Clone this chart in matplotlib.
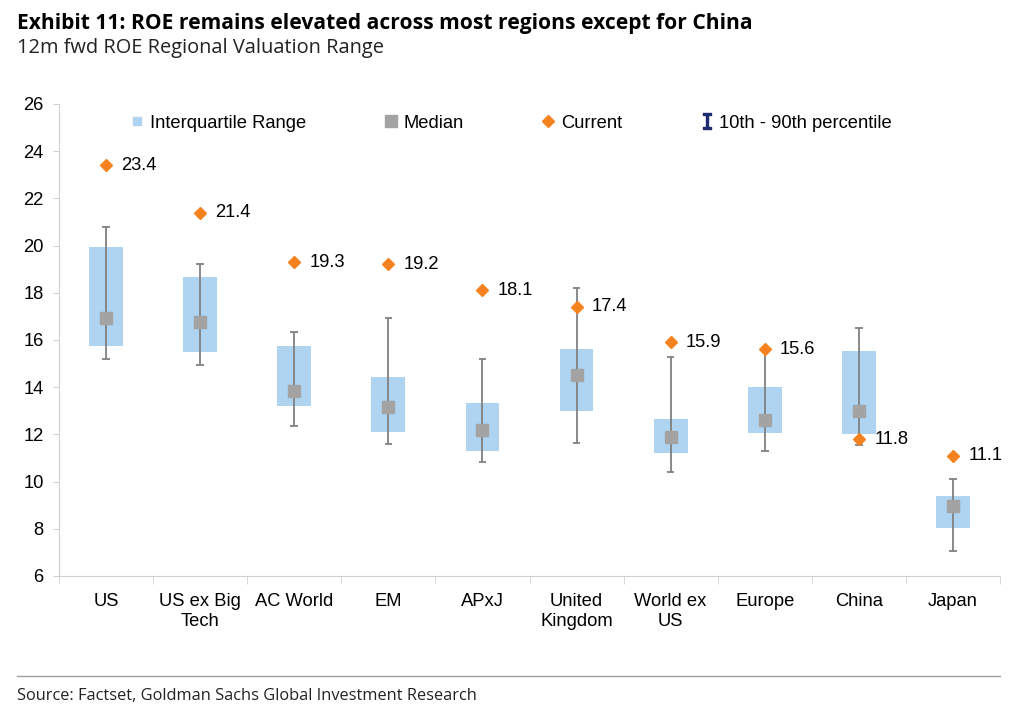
import matplotlib.pyplot as plt
from matplotlib.lines import Line2D
import numpy as np

regions = ['US', 'US ex Big\nTech', 'AC World', 'EM', 'APxJ', 'United\nKingdom',
           'World ex\nUS', 'Europe', 'China', 'Japan']
p10 = [15.2, 14.95, 12.35, 11.6, 10.85, 11.65, 10.4, 11.3, 11.55, 7.05]
q25 = [15.75, 15.5, 13.2, 12.1, 11.3, 13.0, 11.2, 12.05, 12.0, 8.05]
median = [16.95, 16.75, 13.85, 13.15, 12.2, 14.5, 11.9, 12.6, 13.0, 8.95]
q75 = [19.95, 18.65, 15.75, 14.45, 13.35, 15.6, 12.65, 14.0, 15.55, 9.4]
p90 = [20.8, 19.2, 16.35, 16.95, 15.2, 18.2, 15.3, 15.55, 16.5, 10.1]
current = [23.4, 21.4, 19.3, 19.2, 18.1, 17.4, 15.9, 15.6, 11.8, 11.1]

blue = '#aed4f1'
grey = '#a3a3a3'
orange = '#f5821f'
whisk = '#808080'
navy = '#1f2d6e'
fs = 13.2

plt.rcParams['font.family'] = ['Liberation Sans', 'DejaVu Sans']

fig = plt.figure(figsize=(10.14, 7.2), dpi=100)
ax = fig.add_axes([0.0582, 0.2, 0.928, 0.6556])

x = np.arange(len(regions))
q25a = np.array(q25)
q75a = np.array(q75)
ax.bar(x, q75a - q25a, bottom=q25a, width=0.36, color=blue, zorder=1)
ax.vlines(x, p10, p90, color=whisk, lw=1.3, zorder=2)
ax.hlines(p10, x - 0.04, x + 0.04, color=whisk, lw=1.3, zorder=2)
ax.hlines(p90, x - 0.04, x + 0.04, color=whisk, lw=1.3, zorder=2)
ax.plot(x, median, 's', color=grey, ms=9, zorder=3)
ax.plot(x, current, 'D', color=orange, ms=6.5, zorder=4)

for xi, v in zip(x, current):
    ax.annotate(f'{v:.1f}', (xi, v), xytext=(11, 0), textcoords='offset points',
                va='center', ha='left', fontsize=fs)

ax.set_xlim(-0.5, len(regions) - 0.5)
ax.set_ylim(6, 26)
ax.set_yticks(range(6, 27, 2))
ax.set_xticks(x)
ax.set_xticklabels(regions, fontsize=fs, linespacing=1.25)
ax.set_xticks(np.arange(-0.5, len(regions), 1), minor=True)
ax.tick_params(axis='x', which='major', length=0, pad=12)
ax.tick_params(axis='x', which='minor', length=6, color='#d0d0d0', direction='out')
ax.tick_params(axis='y', labelsize=fs, length=4, color='#d0d0d0', pad=7)
for s in ['top', 'right']:
    ax.spines[s].set_visible(False)
for s in ['left', 'bottom']:
    ax.spines[s].set_color('#d0d0d0')

handles = [
    Line2D([], [], ls='none', marker='s', color=blue, ms=6),
    Line2D([], [], ls='none', marker='s', color=grey, ms=9),
    Line2D([], [], ls='none', marker='D', color=orange, ms=6),
    Line2D([], [], ls='none', marker='$\\mathtt{I}$', color=navy, ms=11),
]
labels = ['Interquartile Range', 'Median', 'Current', '10th - 90th percentile']
ax.legend(handles, labels, loc='upper left', bbox_to_anchor=(0.058, 1.012), ncol=4,
          frameon=False, fontsize=fs, handlelength=0.8, handletextpad=0.3,
          columnspacing=4.2)

fig.text(0.017, 0.968, 'Exhibit 11: ROE remains elevated across most regions except for China',
         fontsize=15.1, fontweight='bold', family='Open Sans', va='center')
fig.text(0.017, 0.934, '12m fwd ROE Regional Valuation Range', fontsize=14.4,
         family='Open Sans', va='center', color='#222222')
fig.add_artist(Line2D([0.017, 0.986], [0.061, 0.061], color='#a0a0a0', lw=1))
fig.text(0.017, 0.034, 'Source: Factset, Goldman Sachs Global Investment Research',
         fontsize=11.8, family='Open Sans', va='center', color='#222222')

fig.savefig('out.png', dpi=100)
